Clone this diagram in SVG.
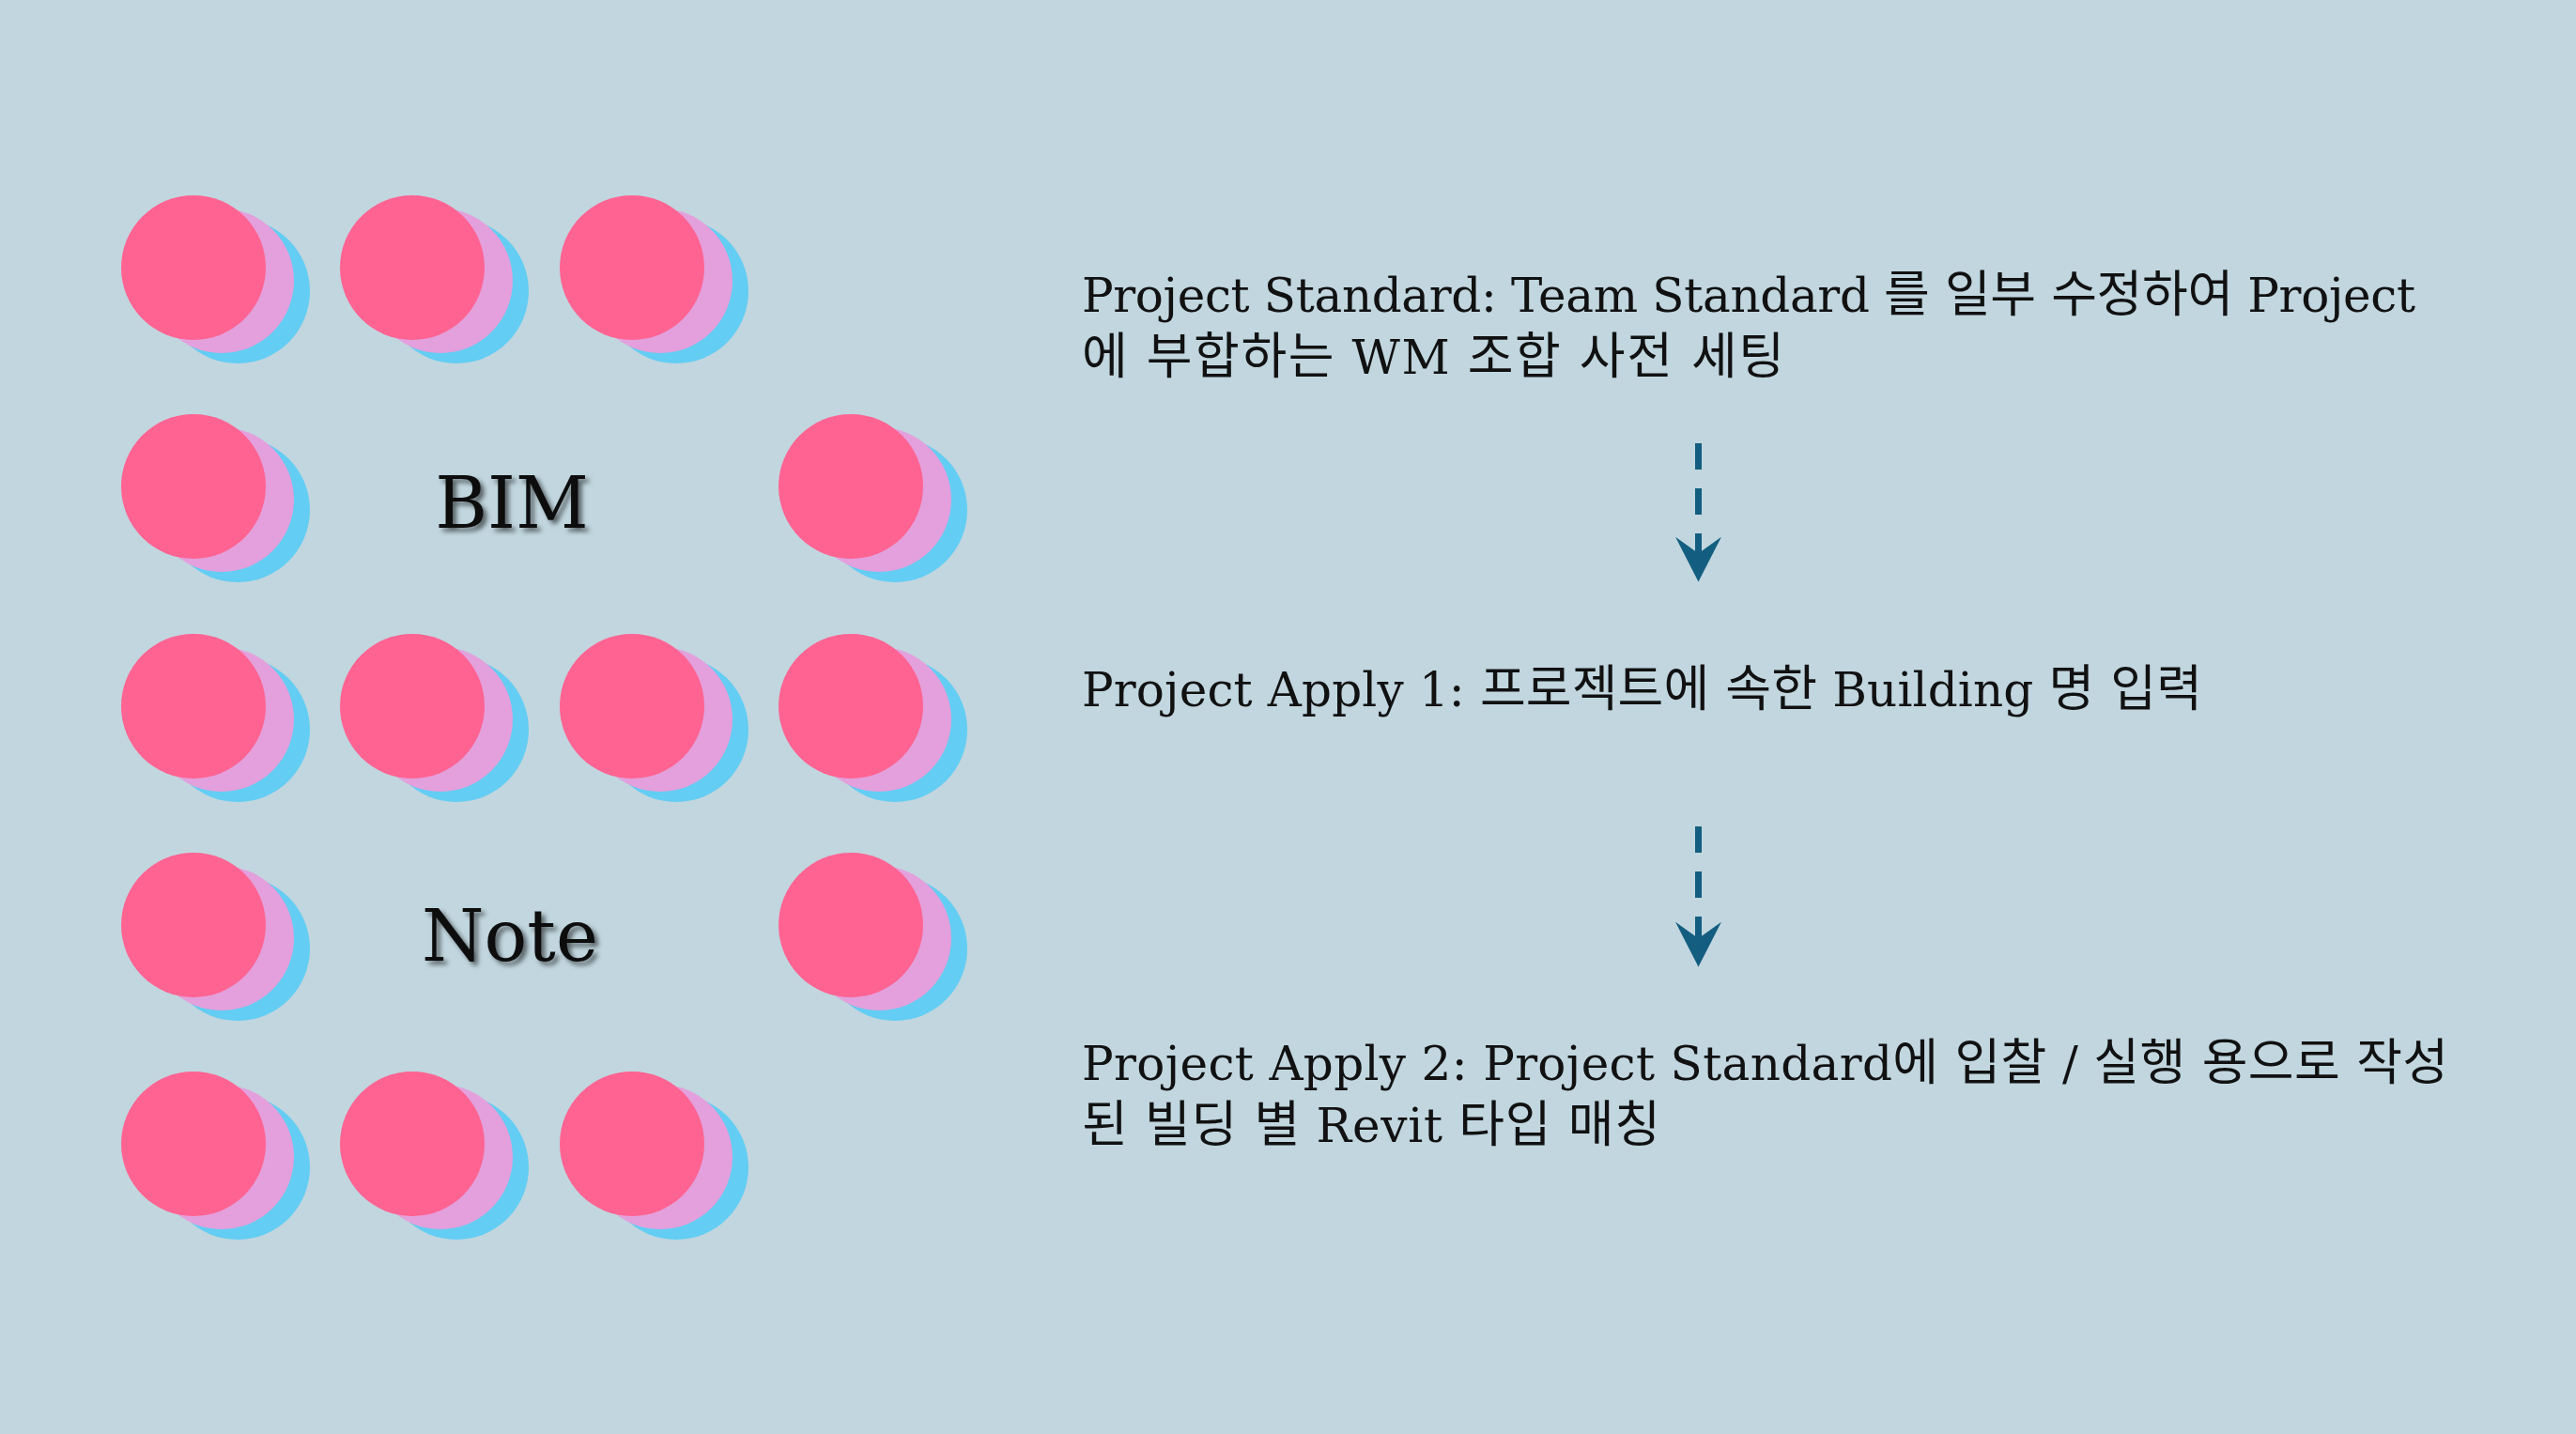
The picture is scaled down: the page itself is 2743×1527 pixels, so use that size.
<svg xmlns="http://www.w3.org/2000/svg" width="2743" height="1527" viewBox="0 0 2743 1527">
<defs>
<style>
.p{fill:#ff6392}
.l{fill:#e3a0dc}
.b{fill:#63cdf3}
.t{font-family:"DejaVu Serif","Noto Sans CJK KR",serif;font-size:50px;fill:#111}
.k{font-size:53px}
.big{font-family:"DejaVu Serif","Liberation Serif",serif;font-size:76px;fill:#111;text-anchor:middle}
.con{stroke:#135e80;stroke-width:7;stroke-dasharray:28 20;fill:none}
</style>
<filter id="sh" x="-20%" y="-30%" width="140%" height="160%">
<feDropShadow dx="4" dy="4" stdDeviation="2.5" flood-color="#000" flood-opacity="0.55"/>
</filter>
<g id="dot">
<circle class="b" cx="47" cy="25" r="77"/>
<circle class="l" cx="30" cy="14" r="77"/>
<circle class="p" cx="0" cy="0" r="77"/>
</g>
<marker id="ah" markerUnits="userSpaceOnUse" markerWidth="50" markerHeight="50" viewBox="0 0 46 46" refX="26" refY="22.5" orient="auto">
<path d="M44,22.5 L0,0 L16,22.5 L0,45 Z" fill="#135e80"/>
</marker>
</defs>
<rect width="2743" height="1527" fill="#c1d6df"/>
<g id="dots">
<use href="#dot" x="206" y="285"/>
<use href="#dot" x="439" y="285"/>
<use href="#dot" x="673" y="285"/>
<use href="#dot" x="206" y="518"/>
<use href="#dot" x="906" y="518"/>
<use href="#dot" x="206" y="752"/>
<use href="#dot" x="439" y="752"/>
<use href="#dot" x="673" y="752"/>
<use href="#dot" x="906" y="752"/>
<use href="#dot" x="206" y="985"/>
<use href="#dot" x="906" y="985"/>
<use href="#dot" x="206" y="1218"/>
<use href="#dot" x="439" y="1218"/>
<use href="#dot" x="673" y="1218"/>
</g>
<g id="title-bim"><text class="big" x="545" y="562" filter="url(#sh)">BIM</text></g>
<g id="title-note"><text class="big" x="543" y="1023" filter="url(#sh)">Note</text></g>
<g id="step1">
<text class="t" x="1152" y="332" textLength="1420" lengthAdjust="spacing">Project Standard: Team Standard <tspan class="k">를 일부 수정하여</tspan> Project</text>
<text class="t" x="1152" y="398" textLength="748" lengthAdjust="spacing"><tspan class="k">에 부합하는</tspan> WM <tspan class="k">조합 사전 세팅</tspan></text>
</g>
<g id="step2">
<text class="t" x="1152" y="752" textLength="1193" lengthAdjust="spacing">Project Apply 1: <tspan class="k">프로젝트에 속한</tspan> Building <tspan class="k">명 입력</tspan></text>
</g>
<g id="step3">
<text class="t" x="1152" y="1150" textLength="1455" lengthAdjust="spacing">Project Apply 2: Project Standard<tspan class="k">에 입찰</tspan> / <tspan class="k">실행 용으로 작성</tspan></text>
<text class="t" x="1152" y="1216" textLength="616" lengthAdjust="spacing"><tspan class="k">된 빌딩 별</tspan> Revit <tspan class="k">타입 매칭</tspan></text>
</g>
<g id="connectors">
<line class="con" x1="1808.5" y1="472" x2="1808.5" y2="600" marker-end="url(#ah)"/>
<line class="con" x1="1808.5" y1="880" x2="1808.5" y2="1010" marker-end="url(#ah)"/>
</g>
</svg>
